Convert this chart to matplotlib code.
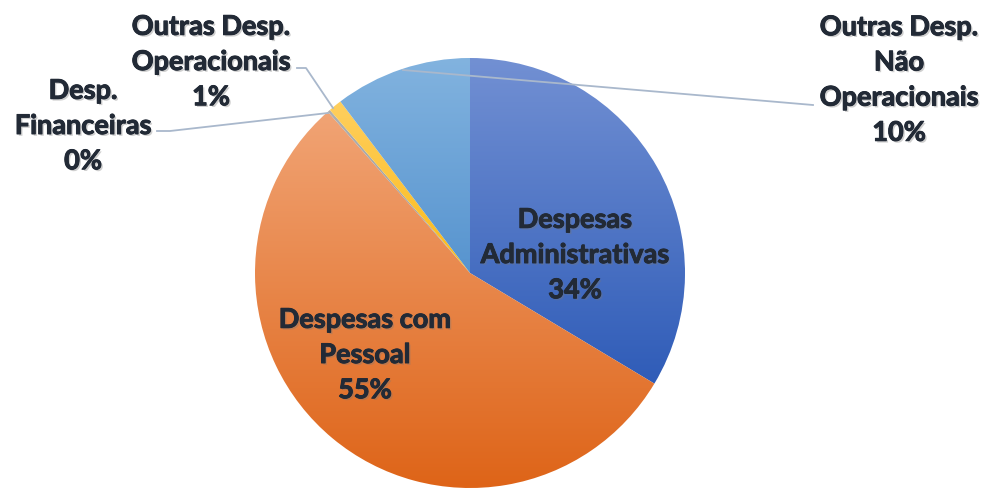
import numpy as np
import matplotlib
matplotlib.use("Agg")
import matplotlib.pyplot as plt
import matplotlib.patheffects as pe
from matplotlib.colors import to_rgb

categories = ["Despesas\nAdministrativas", "Despesas com\nPessoal", "Desp.\nFinanceiras",
              "Outras Desp.\nOperacionais", "Outras Desp.\nNão\nOperacionais"]
values = [33.6, 54.9, 0.2, 1.0, 10.3]
pct_labels = ["34%", "55%", "0%", "1%", "10%"]
grad_top = ["#7290D3", "#F1A475", "#B0B0B0", "#FFCF5E", "#82B3DF"]
grad_bottom = ["#2F5CB8", "#DE6418", "#9A9A9A", "#FBBA18", "#5794CF"]

W, H = 984, 488
fig = plt.figure(figsize=(W / 100, H / 100), dpi=100)
ax = fig.add_axes([0, 0, 1, 1])

cx, cy, r = 470, H - 273, 215
wedges, _ = ax.pie(values, startangle=90, counterclock=False, center=(cx, cy), radius=r,
                   frame=True, wedgeprops=dict(linewidth=0))

for w, ct, cb in zip(wedges, grad_top, grad_bottom):
    w.set_facecolor("none")
    ext = w.get_path().get_extents()
    t = np.linspace(0, 1, 256)[:, None]
    c1, c2 = np.array(to_rgb(ct)), np.array(to_rgb(cb))
    img = (c1[None, None, :] * (1 - t[:, :, None]) + c2[None, None, :] * t[:, :, None])
    img = np.repeat(img, 2, axis=1)
    im = ax.imshow(img, extent=[ext.x0, ext.x1, ext.y0, ext.y1], origin="upper",
                   interpolation="bilinear", zorder=1, aspect="auto")
    im.set_clip_path(w)
ax.set_xlim(0, W)
ax.set_ylim(0, H)
ax.set_aspect("equal")
ax.axis("off")

txt_color = "#222A36"
effects = [pe.withSimplePatchShadow(offset=(1.3, -1.3), shadow_rgbFace="#777777", alpha=0.35),
           pe.withStroke(linewidth=0.7, foreground=txt_color)]

def label(x, y_px, text):
    ax.text(x, H - y_px, text, ha="center", va="center", fontsize=19.5, fontweight="bold",
            family="Lato", color=txt_color, linespacing=1.56, zorder=5, path_effects=effects)

positions = [(575, 255), (365, 355), (83, 126), (211, 62), (899, 80)]
for (x, y), cat, p in zip(positions, categories, pct_labels):
    label(x, y, cat + "\n" + p)

lc = "#A9B8CC"
ax.plot([403, 813], [H - 70, H - 105], color=lc, lw=1.3, zorder=4)
ax.plot([297, 306, 333], [H - 68, H - 68, H - 108], color=lc, lw=1.3, zorder=4)
ax.plot([157, 170, 328], [H - 131, H - 131, H - 113], color=lc, lw=1.3, zorder=4)

fig.savefig("out.png", dpi=100)
